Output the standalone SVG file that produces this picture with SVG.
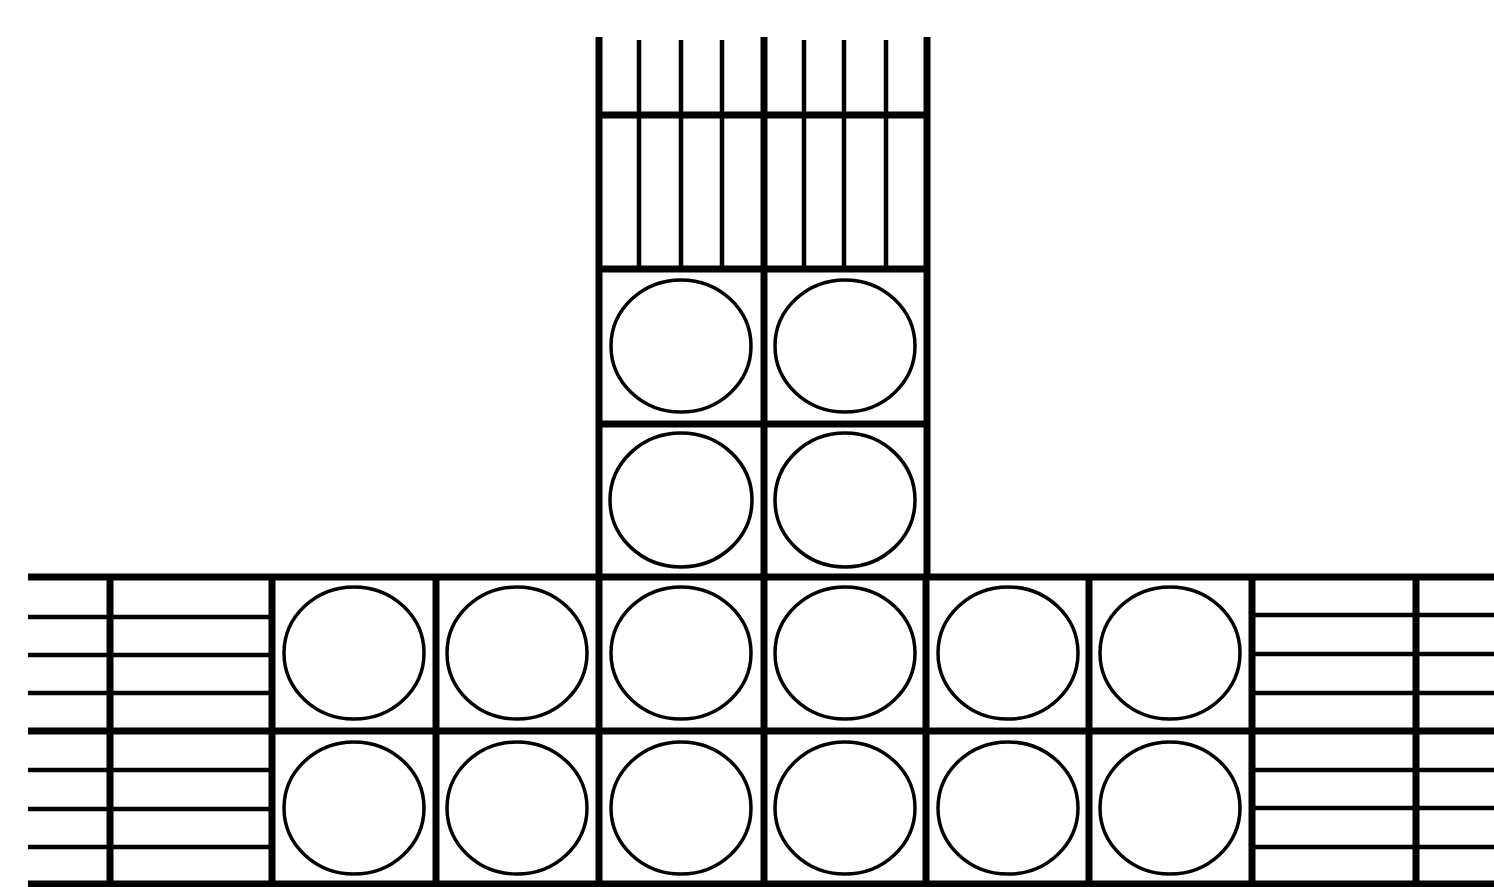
<svg xmlns="http://www.w3.org/2000/svg" width="1494" height="887" viewBox="0 0 1494 887">
<style>
.thick{stroke:#000;stroke-width:7;fill:none;stroke-linecap:butt}
.thin{stroke:#000;stroke-width:4.5;fill:none}
.c{stroke:#000;stroke-width:3.5;fill:none}
</style>
<rect width="1494" height="887" fill="#fff"/>
<g id="column">
<path class="thick" d="M599 37V577M764 37V577M927 37V577M599 115H927M599 269H927M599 424H927"/>
<path class="thin" d="M639 40V269M681 40V269M722 40V269M804 40V269M844 40V269M886 40V269"/>
</g>
<g id="base">
<path class="thick" d="M28 577H1494M28 731H1494M28 884H1494M110 577V884M272 577V884M436 577V884M599 577V884M764 577V884M926 577V884M1089 577V884M1252 577V884M1416 577V884"/>
<path class="thin" d="M28 617H272M28 655H272M28 693H272M28 770H272M28 809H272M28 847H272M1252 615H1494M1252 654H1494M1252 693H1494M1252 770H1494M1252 808H1494M1252 847H1494"/>
</g>
<g id="circles">
<ellipse class="c" cx="681" cy="346" rx="70" ry="66"/>
<ellipse class="c" cx="845" cy="346" rx="70" ry="66"/>
<ellipse class="c" cx="681" cy="500" rx="71" ry="67"/>
<ellipse class="c" cx="845" cy="500" rx="70" ry="67"/>
<ellipse class="c" cx="354" cy="653" rx="70" ry="66"/>
<ellipse class="c" cx="517" cy="653" rx="70" ry="66"/>
<ellipse class="c" cx="681" cy="653" rx="70" ry="66"/>
<ellipse class="c" cx="845" cy="653" rx="70" ry="66"/>
<ellipse class="c" cx="1008" cy="653" rx="70" ry="66"/>
<ellipse class="c" cx="1170" cy="653" rx="70" ry="66"/>
<ellipse class="c" cx="354" cy="808" rx="70" ry="66"/>
<ellipse class="c" cx="517" cy="808" rx="70" ry="66"/>
<ellipse class="c" cx="681" cy="808" rx="70" ry="66"/>
<ellipse class="c" cx="845" cy="808" rx="70" ry="66"/>
<ellipse class="c" cx="1008" cy="808" rx="70" ry="66"/>
<ellipse class="c" cx="1170" cy="808" rx="70" ry="66"/>
</g>
</svg>
